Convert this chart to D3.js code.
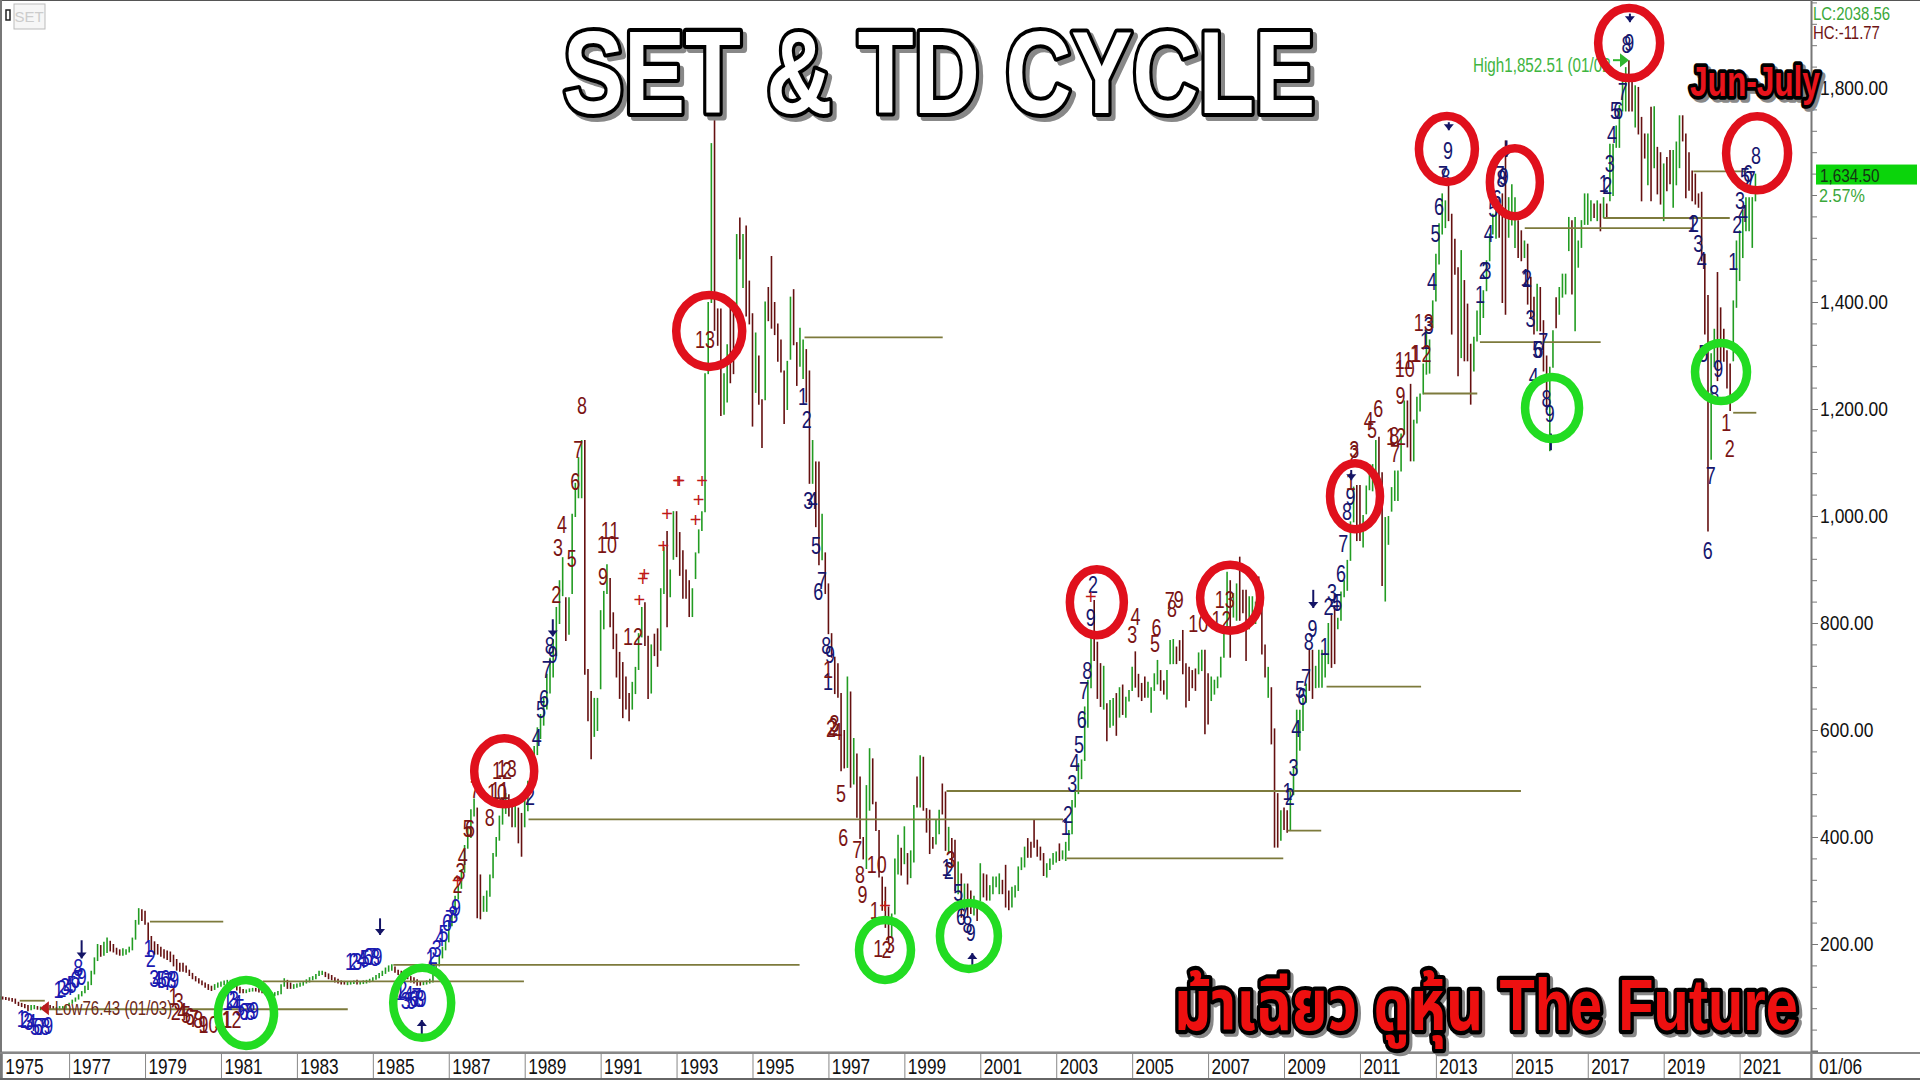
<!DOCTYPE html>
<html lang="en">
    <head>
        <meta charset="utf-8">
        <title>SET & TD Cycle</title>
        <script src="https://cdn.jsdelivr.net/npm/d3@7"></script>
        <style>
            body { margin: 0; background: white; }
            text { font-family: "Liberation Sans", sans-serif; }
        </style>
    </head>

    <body>
        <script type="text/javascript">

            // monthly bars, first one is Mar 1975
            var startYear = 1975 + 2 / 12;

            var highs = [
                103,102,101,100,99,98,92,90,88,86,
                86,86,84,83,85,84,86,84,82,84,84,85,
                90,96,100,106,112,122,130,150,175,200,198,204,
                212,206,200,193,190,192,190,195,212,245,267,265,
                262,240,215,205,200,195,190,188,186,180,172,165,
                165,160,152,146,140,136,132,128,125,122,125,128,
                130,132,133,133,131,125,120,116,115,117,118,118,
                118,116,115,112,110,110,112,125,136,133,128,125,
                126,128,130,134,138,140,144,150,150,148,145,142,
                138,135,132,131,130,131,132,133,131,132,133,135,
                138,142,146,150,156,160,162,158,152,150,148,145,
                140,138,134,130,130,132,135,150,165,180,195,208,
                245,260,290,310,340,385,420,452,472,455,330,290,
                300,330,370,400,440,470,482,480,470,462,455,445,
                470,505,530,570,605,630,660,705,735,770,830,880,
                923,848,848,1004,1062,1110,1142,1142,714,673,660,660,
                824,860,910,884,820,780,746,727,700,669,690,718,
                781,830,839,776,760,780,790,865,942,972,900,1009,
                1009,970,936,900,880,865,932,975,1009,1267,1400,1697,
                1751,1388,1388,1267,1321,1393,1393,1527,1558,1527,1543,1440,
                1379,1343,1300,1218,1401,1428,1486,1400,1360,1330,1272,1290,
                1410,1424,1325,1352,1330,1312,1272,1142,1102,1102,1004,932,
                874,781,737,725,669,600,700,672,585,556,513,400,
                497,566,547,466,413,326,307,270,257,360,404,380,
                420,370,375,460,513,553,550,454,451,400,432,451,
                500,485,419,398,395,354,332,313,313,300,290,280,
                351,332,330,310,326,326,332,320,348,300,307,310,
                345,362,382,398,391,432,395,382,370,351,360,370,
                373,388,375,391,413,469,488,538,545,644,694,775,
                843,765,725,720,650,656,660,669,680,685,662,675,
                718,747,705,688,700,690,680,706,731,712,693,712,
                768,770,756,768,787,725,718,712,715,745,750,750,
                706,700,694,700,737,787,896,880,856,874,924,862,
                862,850,850,840,887,831,760,718,680,603,482,450,
                455,450,491,530,638,638,660,687,750,750,720,750,
                750,740,800,818,833,810,859,880,918,990,1055,1058,
                1058,1002,1057,1097,1097,1142,1148,1082,998,1000,1054,1085,
                1085,1154,1216,1216,1247,1180,1223,1229,1285,1347,1330,1403,
                1490,1547,1603,1590,1618,1565,1518,1465,1497,1441,1397,1322,
                1335,1384,1400,1422,1478,1528,1565,1590,1596,1603,1702,1596,
                1620,1596,1553,1534,1515,1509,1447,1410,1434,1428,1366,1300,
                1279,1347,1409,1428,1453,1453,1559,1553,1559,1515,1553,1603,
                1603,1590,1584,1590,1584,1596,1584,1696,1696,1730,1768,1821,
                1839,1852,1815,1805,1802,1746,1715,1715,1765,1766,1690,1680,
                1659,1671,1684,1684,1700,1749,1749,1715,1680,1646,1640,1603,
                1606,1490,1413,1304,1350,1456,1390,1350,1310,1285,1403,1515,
                1534,1572,1596,1596,1596,1640
            ];

            var lows = [
                97,98,97,96,94,90,86,84,82,76,
                78,80,79,78,79,79,80,79,78,78,79,80,
                86,90,94,98,104,110,116,125,145,170,178,180,
                185,188,186,182,180,180,182,186,190,210,238,245,
                238,205,190,182,182,178,175,172,168,160,152,150,
                150,148,142,136,132,128,125,120,116,114,116,120,
                122,125,127,126,122,115,110,110,110,112,113,113,
                111,110,108,106,105,104,106,108,122,118,118,118,
                120,122,124,128,130,134,136,142,144,140,136,134,
                130,128,126,126,125,126,127,126,126,127,128,130,
                132,135,138,142,146,150,152,148,144,142,140,136,
                130,128,124,124,125,126,128,130,148,160,175,190,
                205,235,250,285,305,335,380,400,440,250,248,262,
                262,290,325,365,395,425,445,440,420,420,390,365,
                420,450,485,510,555,585,610,640,670,700,740,800,
                852,768,780,856,1000,1035,1035,705,618,547,589,600,
                678,790,856,794,753,700,660,624,640,618,640,669,
                714,775,759,660,670,740,720,750,856,794,850,920,
                925,890,847,847,813,813,884,932,974,1009,1267,1400,
                1348,1320,1189,1191,1214,1250,1267,1393,1482,1428,1375,1360,
                1169,1232,1210,1129,1218,1366,1352,1340,1290,1270,1174,1200,
                1294,1321,1245,1281,1258,1214,1062,1062,981,910,919,856,
                781,737,669,662,525,530,531,494,500,438,398,360,
                342,451,463,413,326,264,232,205,214,257,332,330,
                351,313,325,354,457,457,451,410,370,380,388,407,
                444,376,370,345,301,295,251,265,251,258,255,245,
                282,289,283,283,295,308,295,295,270,265,270,289,
                301,340,345,363,363,382,365,358,329,326,340,350,
                354,357,360,357,376,407,457,482,510,544,606,680,
                731,660,645,640,581,606,610,591,625,630,625,655,
                675,681,663,656,662,662,634,675,687,675,668,659,
                725,725,725,731,706,644,656,680,675,706,712,594,
                612,656,668,680,700,737,793,737,812,806,806,820,
                731,790,806,800,831,743,700,662,575,382,382,395,
                415,410,413,480,520,563,600,653,675,660,680,681,
                681,700,725,718,725,790,806,850,862,918,990,955,
                955,943,1005,1050,1048,1085,1048,871,842,948,1010,1030,
                1030,1085,1154,1130,1104,1104,1175,1197,1229,1266,1268,1353,
                1403,1472,1528,1540,1553,1341,1453,1263,1297,1291,1291,1210,
                1272,1328,1340,1372,1422,1478,1528,1520,1522,1400,1378,1522,
                1545,1503,1484,1478,1484,1397,1372,1341,1347,1347,1272,1200,
                1123,1279,1353,1378,1410,1416,1497,1416,1347,1466,1503,1546,
                1546,1553,1559,1553,1534,1559,1559,1590,1600,1690,1690,1758,
                1758,1758,1758,1728,1715,1590,1670,1620,1590,1652,1603,1584,
                1553,1609,1622,1578,1620,1652,1702,1596,1610,1590,1584,1578,
                1478,1341,973,1107,1280,1254,1290,1290,1240,1198,1291,1391,
                1441,1484,1534,1534,1503,1590
            ];

            // g = up month, r = down month
            var barDirection =
                "grrrrrrrrr" + "ggrgrgrrgggg" + "ggggggggggrg" + "grrrrggggggr" + "rrrrrrrrrrrr" +
                "rrrrrrrrrrgg" + "ggggrrrrgggr" + "rrrrrggggrrg" + "gggggggggrrr" + "rrrrgggrgggg" +
                "gggggggrrrrr" + "rrrrgggggggg" + "gggggggggrrg" + "gggggggrrgrr" + "gggggggggggg" +
                "grgggggrrrgg" + "gggrrrrrrrgg" + "ggrrgrrggrgg" + "rrrrrggggggg" + "rrrggrrgrgrr" +
                "rgrrgrrrrrrg" + "grrggrrgrrgr" + "rrrrrrgrgrrr" + "ggrrrrrrgggr" + "grggrgrrrrgg" +
                "rrgrrgrgrrgr" + "grrggggrrrgg" + "gggrrrrrrggg" + "grgggggggggg" + "rrrgrggrgrgg" +
                "grrrrggggrrg" + "ggrrrrrrrggr" + "rggggggrggrr" + "rgggrrrgrrrg" + "rrggggggrrgg" +
                "gggrrggggggr" + "rgggggrrgggg" + "gggrrggggggg" + "ggggrrrrgrrr" + "ggggggggrrrg" +
                "ggrrgrrrgrrr" + "ggrggggrgggg" + "ggrgrgrggggg" + "grrgrrrgrgrr" + "grrgggrrrrrr" +
                "rrrggrrrrrgg" + "gggggg";

            var yearTicks = [1975.23,1977,1979,1981,1983,1985,1987,1989,1991,1993,1995,1997,1999,2001,2003,2005,2007,2009,2011,2013,2015,2017,2019,2021];
            // 1,600 sits behind the last price box
            var priceTicks = [200,400,600,800,1000,1200,1400,1800];
            var lastAxisLabel = "01/06";

            // from year, to year, price
            var supportLines = [
                [1979.13,1981.06,242],[1975.7,1976.36,94],[1976.3,1984.34,78],[1982.1,1988.98,130],
                [1985.54,1996.24,161],[1989.1,2003.18,433],[2000.11,2015.24,486],[2003.27,2008.98,360],
                [1996.37,2000.01,1334],[2010.12,2012.61,681],[2009.09,2009.98,412],[2012.67,2014.09,1229],
                [2014.16,2017.34,1325],[2015.34,2019.73,1538],[2017.41,2020.74,1557],[2019.78,2021.18,1644],
                [2020.83,2021.44,1193]
            ];

            // year, price, label
            var brightLabels = [
                [1975.75,61,"1"],[1975.84,58,"2"],[1975.93,55,"3"],[1976.01,52,"4"],[1976.10,45,"5"],[1976.19,45,"6"],[1976.28,45,"7"],[1976.37,45,"8"],[1976.45,48,"9"],
                [1976.72,114,"1"],[1976.80,117,"2"],[1976.89,120,"3"],[1976.98,120,"4"],[1977.07,123,"5"],[1977.16,133,"6"],[1977.24,136,"7"],[1977.24,155,"8"],[1977.33,139,"9"],
                [1979.09,192,"1"],[1979.15,173,"2"],[1979.24,136,"3"],[1979.32,133,"4"],[1979.44,133,"5"],[1979.53,136,"6"],[1979.61,130,"7"],[1979.70,133,"8"],[1979.77,133,"9"],
                [1981.17,92,"1"],[1981.26,95,"2"],[1981.34,95,"3"],[1981.43,89,"4"],[1981.50,80,"5"],[1981.60,73,"6"],[1981.69,73,"7"],[1981.78,73,"8"],[1981.87,75,"9"],
                [1984.40,167,"1"],[1984.50,167,"2"],[1984.59,167,"3"],[1984.71,170,"4"],[1984.79,173,"5"],[1984.88,176,"6"],[1984.97,177,"7"],[1985.06,175,"8"],[1985.12,176,"9"],
                [1985.72,111,"1"],[1985.78,115,"2"],[1985.87,94,"3"],[1985.94,105,"4"],[1986.02,94,"5"],[1986.09,98,"6"],[1986.15,102,"7"],[1986.22,98,"8"],[1986.29,98,"9"],
                [1986.52,173,"1"],[1986.58,179,"2"],[1986.68,192,"3"],[1986.77,211,"4"],[1986.86,220,"5"],[1986.95,239,"6"],[1987.03,248,"7"],[1987.12,254,"8"],[1987.19,267,"9"]
            ];

            var navyLabels = [
                [1989.14,476,"2"],[1989.32,586,"4"],[1989.43,637,"5"],[1989.51,659,"6"],[1989.58,713,"7"],[1989.66,758,"8"],[1989.74,740,"9"],
                [1996.33,1223,"1"],[1996.43,1180,"2"],[1996.47,1028,"3"],[1996.59,1028,"4"],[1996.67,944,"5"],[1996.73,858,"6"],[1996.83,879,"7"],[1996.94,758,"8"],[1997.04,740,"9"],[1996.99,691,"1"],
                [2000.11,342,"1"],[2000.17,337,"2"],[2000.42,295,"5"],[2000.49,251,"6"],[2000.59,261,"7"],[2000.66,236,"8"],[2000.75,221,"9"],
                [2003.25,419,"1"],[2003.31,441,"2"],[2003.42,500,"3"],[2003.49,538,"4"],[2003.60,573,"5"],[2003.67,619,"6"],[2003.73,674,"7"],[2003.82,711,"8"],[2003.91,809,"9"],[2003.97,871,"2"],
                [2009.09,485,"1"],[2009.15,476,"2"],[2009.25,529,"3"],[2009.32,603,"4"],[2009.42,675,"5"],[2009.48,663,"6"],[2009.58,697,"7"],[2009.65,765,"8"],[2009.75,790,"9"],
                [2010.07,756,"1"],[2010.17,831,"2"],[2010.26,856,"3"],[2010.34,837,"4"],[2010.40,837,"5"],[2010.50,893,"6"],[2010.56,949,"7"],[2010.66,1008,"8"],[2010.75,1036,"9"],
                [2012.71,1328,"1"],[2012.81,1356,"3"],[2012.90,1437,"4"],[2012.99,1527,"5"],[2013.08,1579,"6"],[2013.19,1637,"7"],[2013.25,1635,"8"],[2013.32,1682,"9"],
                [2014.16,1413,"1"],[2014.26,1459,"2"],[2014.33,1459,"3"],[2014.39,1527,"4"],[2014.51,1575,"5"],[2014.60,1593,"6"],[2014.68,1637,"7"],[2014.73,1631,"8"],[2014.79,1634,"9"],
                [2015.36,1445,"1"],[2015.40,1444,"2"],[2015.49,1369,"3"],[2015.58,1260,"4"],[2015.67,1310,"5"],[2015.70,1310,"6"],[2015.83,1325,"7"],[2015.91,1219,"8"],[2016.00,1191,"9"],
                [2017.42,1621,"1"],[2017.51,1618,"2"],[2017.58,1659,"3"],[2017.64,1712,"4"],[2017.72,1758,"5"],[2017.80,1758,"6"],[2017.92,1793,"7"],[2018.02,1880,"8"],[2018.09,1884,"9"],
                [2019.76,1547,"1"],[2019.80,1547,"2"],[2019.91,1509,"3"],[2020.00,1478,"4"],[2020.04,1304,"5"],[2020.16,936,"6"],[2020.24,1076,"7"],[2020.33,1229,"8"],[2020.44,1275,"9"],
                [2020.83,1475,"1"],[2020.94,1544,"2"],[2021.01,1590,"3"],[2021.09,1565,"4"],[2021.14,1634,"5"],[2021.22,1640,"6"],[2021.29,1628,"7"],[2021.43,1674,"8"]
            ];

            var redLabels = [
                [1979.75,101,"1"],[1979.81,73,"2"],[1979.89,92,"3"],[1979.98,73,"4"],[1980.08,67,"5"],[1980.18,64,"6"],[1980.29,61,"7"],[1980.40,58,"8"],[1980.54,49,"9"],[1980.67,49,"10"],[1981.06,58,"11"],[1981.28,58,"12"],
                [1987.23,310,"2"],[1987.31,335,"3"],[1987.37,363,"4"],[1987.50,415,"5"],[1987.56,415,"6"],[1987.69,488,"7"],[1988.08,436,"8"],[1988.27,482,"10"],[1988.34,486,"11"],[1988.40,523,"12"],[1988.53,527,"13"],
                [1989.83,853,"2"],[1989.88,941,"3"],[1989.98,983,"4"],[1990.24,921,"5"],[1990.33,1064,"6"],[1990.41,1124,"7"],[1990.51,1207,"8"],[1991.06,887,"9"],[1991.17,947,"10"],[1991.25,972,"11"],[1991.85,774,"12"],
                [1993.75,1330,"13"],[1996.99,713,"1"],[1997.12,606,"2"],[1997.07,603,"2"],[1997.16,612,"3"],[1997.23,597,"4"],[1997.33,481,"5"],[1997.39,398,"6"],[1997.76,376,"7"],[1997.83,329,"8"],[1997.90,293,"9"],[1998.27,348,"10"],[1998.22,262,"1"],
                [1998.31,192,"1"],[1998.53,190,"2"],[1998.62,198,"3"],[2000.22,358,"3"],
                [2005.00,778,"3"],[2005.09,811,"4"],[2005.60,762,"5"],[2005.64,792,"6"],[2005.99,841,"7"],[2006.05,826,"8"],[2006.23,843,"9"],[2006.74,799,"10"],[2007.35,806,"12"],[2007.44,844,"13"],
                [2010.76,1064,"1"],[2010.85,1117,"2"],[2010.85,1123,"3"],[2011.23,1178,"4"],[2011.32,1162,"5"],[2011.48,1201,"6"],[2011.92,1117,"7"],[2011.90,1151,"8"],[2011.95,1148,"12"],[2012.07,1224,"9"],[2012.18,1275,"10"],[2012.16,1291,"11"],[2012.45,1303,"1"],[2012.62,1303,"12"],[2012.68,1361,"13"],
                [2020.65,1174,"1"],[2020.74,1125,"2"]
            ];

            var plusMarks = [
                [1992.02,843],[1992.11,883],[1992.15,892],[1992.65,944],[1992.75,1005],[1993.04,1066],[1993.07,1066],[1993.50,992],[1993.58,1030],[1993.67,1066],
                [1998.49,271],[2003.91,849],[1987.23,318]
            ];

            // year, price from, price to
            var navyArrows = [
                [1977.33,207,173],[1985.19,248,217],[1986.29,30,58],[1989.74,807,775],[2000.79,161,183],
                [2009.77,862,828],[2010.77,1086,1067],[2013.34,1736,1721],[2014.86,1702,1671],[2016.03,1123,1154],[2018.11,1939,1923]
            ];

            // year, price, horizontal radius, vertical radius
            var redRings = [
                [1988.46,523,30,33],[1993.86,1346,33,36],[2004.07,839,27,33],[2007.58,847,30,33],[2010.87,1037,25,33],
                [2013.29,1686,28,33],[2015.08,1624,25,34],[2018.09,1884,31,35],[2021.46,1678,31,37]
            ];
            var greenRings = [
                [1981.66,71,28,33],[1986.30,90,29,35],[1998.49,189,26,30],[2000.70,215,29,33],[2016.06,1202,27,31],[2020.51,1269,26,29]
            ];

            var width = 1920;
            var height = 1080;
            var plotRight = 1811;
            var plotBottom = 1052;

            var svg = d3.select("body")
                .append("svg")
                .attr("width", width)
                .attr("height", height);

            var x = d3.scaleLinear().domain([1975.18, 2022.88]).range([0, plotRight]);
            var y = d3.scaleLinear().domain([0, 2000]).range([plotBottom - 1, plotBottom - 1 - 1070]);

            drawFrame();
            drawBars();
            drawSupport();
            drawLabels();
            drawRings();
            drawHeadings();

            // the chart font is narrow and tall, squeeze plain text to get there
            function addNarrow(px, py, txt, colour, size, sx, sy){
                return svg.append("text")
                    .attr("transform", "translate(" + px + "," + py + ") scale(" + sx + "," + sy + ")")
                    .attr("fill", colour)
                    .style("font-size", size + "px")
                    .text(txt);
            }

            function drawFrame(){
                svg.append("rect").attr("x",0).attr("y",0).attr("width",width).attr("height",1).attr("fill","#555");
                svg.append("rect").attr("x",0).attr("y",0).attr("width",2).attr("height",height).attr("fill","#777");

                // logo box top left
                svg.append("rect").attr("x",6).attr("y",10).attr("width",4).attr("height",10)
                    .attr("fill","white").attr("stroke","#222").attr("stroke-width",1.5);
                svg.append("rect").attr("x",14).attr("y",4).attr("width",31).attr("height",25)
                    .attr("fill","#f6f6f6").attr("stroke","#bbb");
                svg.append("text").attr("x",29).attr("y",22).attr("text-anchor","middle")
                    .attr("fill","#ccc").style("font-size","15px").text("SET");

                // year axis
                var xAxis = svg.append("g")
                    .attr("transform", "translate(0," + plotBottom + ")")
                    .call(d3.axisBottom(x).tickValues(yearTicks).tickSize(27).tickFormat(function(d){ return Math.floor(d); }));
                xAxis.select(".domain").attr("stroke","#777").attr("stroke-width",2);
                xAxis.selectAll("line").attr("stroke","#888");
                xAxis.selectAll("text")
                    .attr("text-anchor","start").attr("x",3.6).attr("y",5.5)
                    .attr("transform","scale(0.82,1.08)")
                    .attr("fill","#111").style("font-size","21px");

                svg.append("rect").attr("x",0).attr("y",plotBottom).attr("width",width).attr("height",2).attr("fill","#888");
                svg.append("rect").attr("x",0).attr("y",1078).attr("width",width).attr("height",2).attr("fill","#666");
                svg.append("line").attr("x1",plotRight).attr("x2",plotRight).attr("y1",plotBottom).attr("y2",1078).attr("stroke","#888");
                addNarrow(1819, 1074, lastAxisLabel, "#111", 21, 0.82, 1.08);

                // price axis
                var minor = d3.range(40, 2000, 40);
                var minorAxis = svg.append("g")
                    .attr("transform", "translate(" + plotRight + ",0)")
                    .call(d3.axisRight(y).tickValues(minor).tickSize(6).tickFormat(""));
                minorAxis.select(".domain").remove();
                minorAxis.selectAll("line").attr("stroke","#777");

                var yAxis = svg.append("g")
                    .attr("transform", "translate(" + plotRight + ",0)")
                    .call(d3.axisRight(y).tickValues(priceTicks).tickSize(7).tickFormat(d3.format(",.2f")));
                yAxis.select(".domain").attr("stroke","#777").attr("stroke-width",2);
                yAxis.selectAll("line").attr("stroke","#777");
                yAxis.selectAll("text").attr("x",11).attr("transform","scale(0.83,1)")
                    .attr("fill","#111").style("font-size","21px");

                addNarrow(1813, 20, "LC:2038.56", "#3aa83a", 18, 0.83, 1.05);
                addNarrow(1813, 39, "HC:-11.77", "#6e1414", 18, 0.83, 1.05);

                svg.append("rect").attr("x",1816).attr("y",y(1634.5) - 12).attr("width",101).attr("height",20).attr("fill","#0bd40b");
                addNarrow(1820, y(1634.5) + 5, "1,634.50", "#143314", 18, 0.85, 1.05);
                addNarrow(1819, 202, "2.57%", "#3aa83a", 18, 0.9, 1.05);
            }

            function drawBars(){
                var idx = d3.range(highs.length);
                svg.append("g").selectAll("line")
                    .data(idx)
                    .enter().append("line")
                    .attr("x1", function(i){ return x(startYear + i / 12); })
                    .attr("x2", function(i){ return x(startYear + i / 12); })
                    .attr("y1", function(i){ return y(highs[i]); })
                    .attr("y2", function(i){ return y(lows[i]) + 1; })
                    .attr("stroke", function(i){ return barDirection[i] == "g" ? "#229c22" : "#651010"; })
                    .attr("stroke-width", 1.6);
            }

            function drawSupport(){
                svg.append("g").selectAll("line")
                    .data(supportLines)
                    .enter().append("line")
                    .attr("x1", function(d){ return x(d[0]); })
                    .attr("x2", function(d){ return x(d[1]); })
                    .attr("y1", function(d){ return y(d[2]); })
                    .attr("y2", function(d){ return y(d[2]); })
                    .attr("stroke", "#7d7a3c")
                    .attr("stroke-width", 1.8);
            }

            function addLabels(list, colour){
                svg.append("g").selectAll("text")
                    .data(list)
                    .enter().append("text")
                    .attr("transform", function(d){ return "translate(" + x(d[0]) + "," + y(d[1]) + ") scale(0.78,1)"; })
                    .attr("dy", "0.36em")
                    .attr("text-anchor", "middle")
                    .attr("fill", colour)
                    .style("font-size", "23px")
                    .text(function(d){ return d[2]; });
            }

            function addArrow(d){
                var dir = d[2] > d[1] ? -1 : 1;
                var g = svg.append("g");
                g.append("line")
                    .attr("x1", x(d[0])).attr("x2", x(d[0]))
                    .attr("y1", y(d[1])).attr("y2", y(d[2]))
                    .attr("stroke", "#141466").attr("stroke-width", 2);
                var tip = y(d[2]);
                g.append("path")
                    .attr("d", "M" + (x(d[0]) - 5) + "," + (tip - dir * 6) + "L" + (x(d[0]) + 5) + "," + (tip - dir * 6) + "L" + x(d[0]) + "," + tip + "Z")
                    .attr("fill", "#141466");
            }

            function drawLabels(){
                addLabels(brightLabels, "#1a1ab0");
                addLabels(navyLabels, "#16166e");
                addLabels(redLabels, "#7a1414");

                svg.append("g").selectAll("text")
                    .data(plusMarks)
                    .enter().append("text")
                    .attr("x", function(d){ return x(d[0]); })
                    .attr("y", function(d){ return y(d[1]); })
                    .attr("dy", "0.36em")
                    .attr("text-anchor", "middle")
                    .attr("fill", "#c01818")
                    .style("font-size", "20px")
                    .text("+");

                navyArrows.forEach(addArrow);

                // low and high call-outs
                svg.append("path")
                    .attr("d", "M" + x(1976.23) + "," + y(80) + "l9,-7v14Z")
                    .attr("fill", "#b81c1c");
                addNarrow(x(1976.62), y(78) + 6, "Low76.43 (01/03)", "#6e2a18", 18, 0.84, 1.1);

                addNarrow(1473, 72, "High1,852.51 (01/02", "#3fb53f", 19, 0.8, 1.05);
                svg.append("line").attr("x1", 1613).attr("x2", 1626).attr("y1", y(1852)).attr("y2", y(1852)).attr("stroke", "#2fb52f").attr("stroke-width", 2);
                svg.append("path").attr("d", "M1629," + y(1852) + "l-9,-7v14Z").attr("fill", "#2fb52f");
            }

            function addRings(list, colour){
                svg.append("g").selectAll("ellipse")
                    .data(list)
                    .enter().append("ellipse")
                    .attr("cx", function(d){ return x(d[0]); })
                    .attr("cy", function(d){ return y(d[1]); })
                    .attr("rx", function(d){ return d[2]; })
                    .attr("ry", function(d){ return d[3]; })
                    .attr("fill", "none")
                    .attr("stroke", colour)
                    .attr("stroke-width", 8.5);
            }

            function drawRings(){
                addRings(redRings, "#e0101c");
                addRings(greenRings, "#22dc22");
            }

            function addHeading(txt, tx, ty, sx, sy, size, fill, outline, strokeW, shadow){
                var fontFamily = '"Liberation Sans", "Noto Sans Thai", "Noto Sans", "DejaVu Sans", sans-serif';
                svg.append("text")
                    .attr("transform", "translate(" + (tx + shadow) + "," + (ty + shadow) + ") scale(" + sx + "," + sy + ")")
                    .attr("fill", "#888")
                    .attr("stroke", "#888")
                    .attr("stroke-width", strokeW)
                    .attr("stroke-linejoin", "round")
                    .style("font-family", fontFamily)
                    .style("font-weight", "bold")
                    .style("font-size", size + "px")
                    .text(txt);
                svg.append("text")
                    .attr("transform", "translate(" + tx + "," + ty + ") scale(" + sx + "," + sy + ")")
                    .attr("fill", fill)
                    .attr("stroke", outline)
                    .attr("stroke-width", strokeW)
                    .attr("stroke-linejoin", "round")
                    .attr("paint-order", "stroke")
                    .style("font-family", fontFamily)
                    .style("font-weight", "bold")
                    .style("font-size", size + "px")
                    .text(txt);
            }

            function drawHeadings(){
                addHeading("SET & TD CYCLE", 563, 113, 0.915, 1.17, 100, "white", "black", 7, 4);
                addHeading("Jun-July", 1690, 96, 0.93, 1.25, 34, "#e8141c", "black", 6, 3);
                addHeading("ม้าเฉียว ดูหุ้น The Future", 1174, 1030, 0.85, 1.05, 68, "#ee1010", "black", 8, 3);
            }
        </script>
    </body>
</html>
